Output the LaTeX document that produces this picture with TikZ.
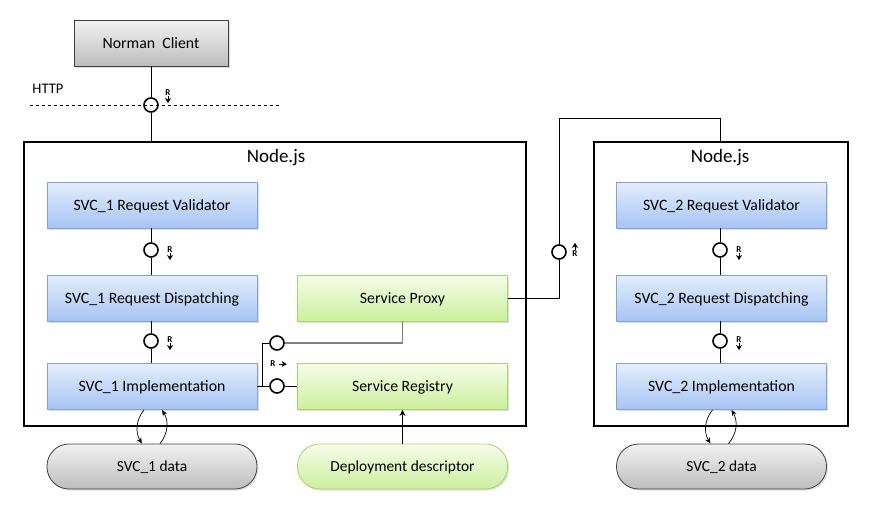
\documentclass[tikz,border=0pt]{standalone}
\usepackage{fontspec}
\setmainfont{Carlito}
\usetikzlibrary{shadows,arrows.meta,calc}
\definecolor{bluetop}{HTML}{E4EDFC}
\definecolor{bluebot}{HTML}{A6C4F4}
\definecolor{blueborder}{HTML}{7FA4DC}
\definecolor{greentop}{HTML}{F6FCEA}
\definecolor{greenbot}{HTML}{CCEF9C}
\definecolor{greenborder}{HTML}{A6D66C}
\definecolor{graytop}{HTML}{F2F2F2}
\definecolor{graybot}{HTML}{BDBDBD}
\definecolor{grayborder}{HTML}{404040}
\definecolor{proxyline}{HTML}{808080}
\tikzset{
  boxfont/.style={font=\fontsize{15.8}{18}\selectfont, text height=11pt, text depth=1pt},
  pillfont/.style={font=\fontsize{15.4}{18}\selectfont, text height=11pt, text depth=1pt},
  shad/.style={drop shadow={shadow xshift=1.5pt, shadow yshift=-1.5pt, opacity=0.25}},
  svcbox/.style={boxfont, shad, draw=blueborder, line width=0.8pt, top color=bluetop, bottom color=bluebot, minimum width=210pt, minimum height=46pt, inner sep=0pt},
  greenbox/.style={boxfont, shad, draw=greenborder, line width=0.8pt, top color=greentop, bottom color=greenbot, minimum width=210pt, minimum height=46pt, inner sep=0pt},
  clientbox/.style={boxfont, shad, draw=grayborder, line width=0.8pt, top color=graytop, bottom color=graybot, minimum width=154pt, minimum height=46pt, inner sep=0pt},
  datapill/.style={pillfont, shad, draw=grayborder, line width=0.8pt, top color=graytop, bottom color=graybot, minimum width=210pt, minimum height=45pt, inner sep=0pt, rounded corners=22pt},
  greenpill/.style={pillfont, shad, draw=greenborder, line width=0.8pt, top color=greentop, bottom color=greenbot, minimum width=210pt, minimum height=45pt, inner sep=0pt, rounded corners=22pt},
  nodejs/.style={draw=black, line width=1.8pt, inner sep=0pt},
  title/.style={font=\fontsize{19}{22}\selectfont},
  iface/.style={circle, draw=black, line width=1.6pt, minimum size=14pt, inner sep=0pt},
  conn/.style={draw=black, line width=0.8pt},
  rlab/.style={font=\fontsize{9}{10}\selectfont\bfseries, inner sep=0pt},
  rarrow/.style={line width=0.8pt, -{Stealth[length=5pt,width=6pt,inset=1.5pt]}},
}
\begin{document}
\begin{tikzpicture}[x=1pt,y=-1pt]
\useasboundingbox (0,0) rectangle (872,512);

% Node.js containers
\node[nodejs, minimum width=502pt, minimum height=284pt] (n1) at (275,284) {};
\node[title] (t1) at (276,158) {Node.js};
\node[nodejs, minimum width=254pt, minimum height=284pt] (n2) at (721,284) {};
\node[title] (t2) at (720,158) {Node.js};

% Client and HTTP
\node[clientbox] (client) at (151,43) {Norman\ \ Client};
\node[font=\fontsize{14.6}{17}\selectfont, inner sep=0pt] (http) at (48,89) {HTTP};
\coordinate (hl) at (30,105);
\coordinate (hr) at (280,105);
\draw[line width=0.8pt, dash pattern=on 3pt off 3pt] (hl) -- (hr);
\node[iface] (c0) at (151,105) {};
\draw[conn] (client) -- (c0);
\draw[conn] (c0) -- (c0 |- n1.north);
\node[rlab] (r0) at (168,93) {R};
\draw[rarrow] (r0.south) -- ++(0,7);

% SVC_1
\node[svcbox] (val1) at (152,205) {SVC\_1 Request Validator};
\node[svcbox] (disp1) at (152,298) {SVC\_1 Request Dispatching};
\node[svcbox] (impl1) at (152,386.5) {SVC\_1 Implementation};
\node[iface] (c1) at (151,250) {};
\node[iface] (c2) at (151,341) {};
\draw[conn] (c1 |- val1.south) -- (c1);
\draw[conn] (c1) -- (c1 |- disp1.north);
\draw[conn] (c2 |- disp1.south) -- (c2);
\draw[conn] (c2) -- (c2 |- impl1.north);
\node[rlab] (r1) at (170,250) {R};
\draw[rarrow] (r1.south) -- ++(0,7);
\node[rlab] (r2) at (170,340) {R};
\draw[rarrow] (r2.south) -- ++(0,7);

% Service proxy / registry
\node[greenbox] (proxy) at (402.5,298) {Service Proxy};
\node[greenbox] (reg) at (402.5,386.5) {Service Registry};
\node[iface] (ci1) at (277,343) {};
\node[iface] (ci2) at (277,386) {};
\coordinate (j) at (262,386);
\draw[conn] (impl1.east |- ci2) -- (ci2);
\draw[conn] (j) |- (ci1);
\draw[conn] (ci2) -- (reg.west |- ci2);
\draw[draw=proxyline, line width=1.3pt] (ci1) -| (proxy.south);
\node[rlab] (r3) at (273,364) {R};
\draw[rarrow] ($(r3.east)+(3,0)$) -- ++(8,0);

% proxy to second node
\node[iface] (cp) at (559,252) {};
\coordinate (top2) at (720,118);
\draw[conn] (proxy.east) -| (cp);
\draw[conn] (cp) |- (top2);
\draw[conn] (top2) -- (top2 |- n2.north);
\node[rlab] (r4) at (575,254) {R};
\draw[rarrow] ($(r4.north)+(0,-1)$) -- ++(0,-7);

% SVC_2
\node[svcbox] (val2) at (721.5,205) {SVC\_2 Request Validator};
\node[svcbox] (disp2) at (721.5,298) {SVC\_2 Request Dispatching};
\node[svcbox] (impl2) at (721.5,386.5) {SVC\_2 Implementation};
\node[iface] (c4) at (720,250) {};
\node[iface] (c5) at (720,341) {};
\draw[conn] (c4 |- val2.south) -- (c4);
\draw[conn] (c4) -- (c4 |- disp2.north);
\draw[conn] (c5 |- disp2.south) -- (c5);
\draw[conn] (c5) -- (c5 |- impl2.north);
\node[rlab] (r5) at (739,250) {R};
\draw[rarrow] (r5.south) -- ++(0,7);
\node[rlab] (r6) at (739,340) {R};
\draw[rarrow] (r6.south) -- ++(0,7);

% Data stores
\node[datapill] (data1) at (152,466.5) {SVC\_1 data};
\node[greenpill] (deploy) at (402.5,466.5) {Deployment descriptor};
\node[datapill] (data2) at (721.5,466.5) {SVC\_2 data};

\draw[line width=0.7pt, -{Stealth[length=6pt,width=5pt]}] ($(impl1.south)+(-8,0)$) to[bend right=35] ($(data1.north)+(-10,0)$);
\draw[line width=0.7pt, -{Stealth[length=6pt,width=5pt]}] ($(data1.north)+(8,0)$) to[bend right=35] ($(impl1.south)+(10,0)$);
\draw[line width=0.7pt, -{Stealth[length=6pt,width=5pt]}] ($(impl2.south)+(-9,0)$) to[bend right=35] ($(data2.north)+(-11,0)$);
\draw[line width=0.7pt, -{Stealth[length=6pt,width=5pt]}] ($(data2.north)+(7,0)$) to[bend right=35] ($(impl2.south)+(10,0)$);
\draw[line width=0.8pt, -{Stealth[length=6pt,width=6pt]}] (deploy.north) -- (reg.south);
\end{tikzpicture}
\end{document}
